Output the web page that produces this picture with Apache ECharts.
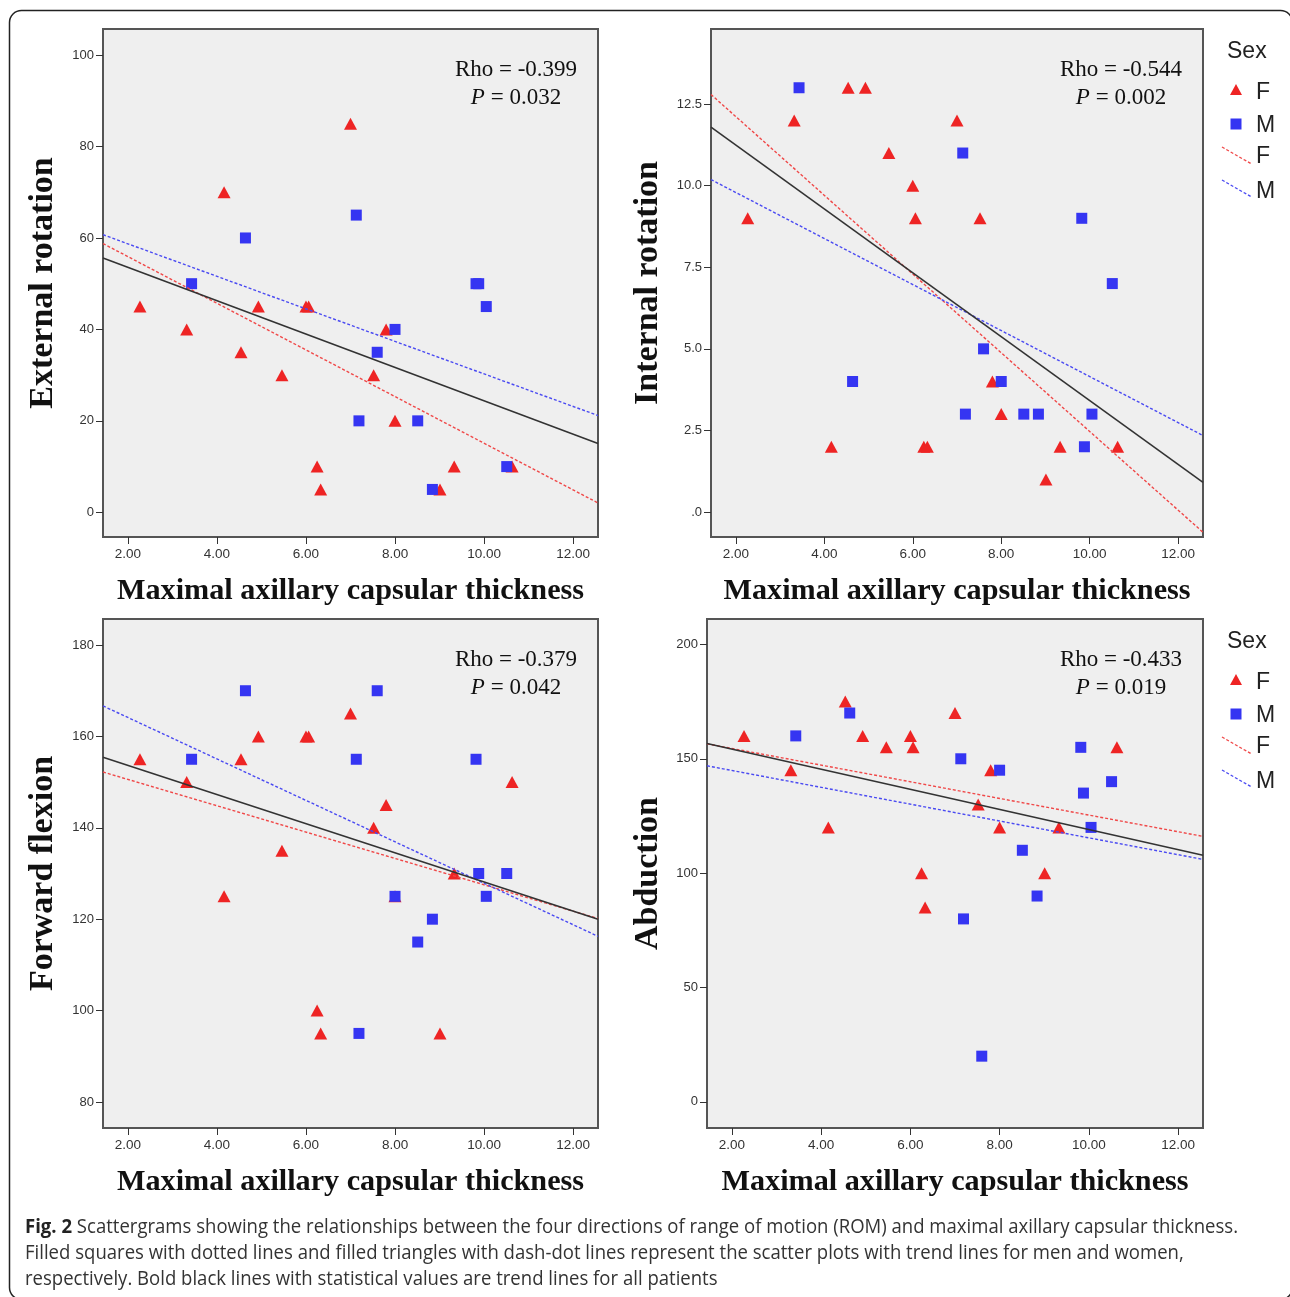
<!DOCTYPE html>
<html><head><meta charset="utf-8">
<script src="https://cdn.jsdelivr.net/npm/echarts@6/dist/echarts.min.js"></script>
<style>html,body{margin:0;padding:0;background:#fff}#c{width:1290px;height:1297px}</style>
</head><body><div id="c"></div>
<script>
// ---- data ----
const thicknessF = [2.27, 3.32, 4.16, 4.54, 4.93, 5.46, 6.00, 6.06, 6.25, 6.33, 7.00, 7.52, 7.80, 8.00, 9.01, 9.33, 10.63];
const thicknessM = [3.43, 4.64, 7.13, 7.19, 7.60, 8.00, 8.51, 8.84, 9.82, 9.88, 10.05, 10.51];
const externalF = [45, 40, 70, 35, 45, 30, 45, 45, 10, 5, 85, 30, 40, 20, 5, 10, 10];
const externalM = [50, 60, 65, 20, 35, 40, 20, 5, 50, 50, 45, 10];
const internalF = [9, 12, 2, 13, 13, 11, 10, 9, 2, 2, 12, 9, 4, 3, 1, 2, 2];
const internalM = [13, 4, 11, 3, 5, 4, 3, 3, 9, 2, 3, 7];
const flexionF = [155, 150, 125, 155, 160, 135, 160, 160, 100, 95, 165, 140, 145, 125, 95, 130, 150];
const flexionM = [155, 170, 155, 95, 170, 125, 115, 120, 155, 130, 125, 130];
const abductionF = [160, 145, 120, 175, 160, 155, 160, 155, 100, 85, 170, 130, 145, 120, 100, 120, 155];
const abductionM = [160, 170, 150, 80, 20, 145, 110, 90, 155, 135, 120, 140];
const yTitles = ['External rotation', 'Internal rotation', 'Forward flexion', 'Abduction'];
const rhoLabels = ['-0.399', '-0.544', '-0.379', '-0.433'];
const pLabels = ['0.032', '0.002', '0.042', '0.019'];
const xTicks = [2, 4, 6, 8, 10, 12];
const yTicksER = [0, 20, 40, 60, 80, 100];
const yTicksIR = [0, 2.5, 5, 7.5, 10, 12.5];
const yTicksFF = [80, 100, 120, 140, 160, 180];
const yTicksAB = [0, 50, 100, 150, 200];
const xTitle = 'Maximal axillary capsular thickness';
const legendTitle = 'Sex';
const sexLabels = ['F', 'M'];
const captionLines = [
  ['Fig. 2', ' Scattergrams showing the relationships between the four directions of range of motion (ROM) and maximal axillary capsular thickness.'],
  ['', 'Filled squares with dotted lines and filled triangles with dash-dot lines represent the scatter plots with trend lines for men and women,'],
  ['', 'respectively. Bold black lines with statistical values are trend lines for all patients']
];

// ---- layout ----
const X_MIN = 1.44, X_MAX = 12.56;
const RED = '#ee2424', BLUE = '#3535f2';
const grids = [
  {left: 103, top: 29, width: 495, height: 508},
  {left: 711, top: 29, width: 492, height: 508},
  {left: 103, top: 619, width: 495, height: 509},
  {left: 707, top: 619, width: 496, height: 509}
];
const yRanges = [[-5.4, 105.7], [-0.765, 14.8], [74.3, 185.7], [-11.4, 211.1]];
const yTickSets = [yTicksER, yTicksIR, yTicksFF, yTicksAB];
const panelF = [externalF, internalF, flexionF, abductionF];
const panelM = [externalM, internalM, flexionM, abductionM];

function zip(xs, ys) { return xs.map((x, i) => [x, ys[i]]); }
function fit(xs, ys) {
  const n = xs.length;
  const mx = xs.reduce((a, b) => a + b, 0) / n, my = ys.reduce((a, b) => a + b, 0) / n;
  let sxy = 0, sxx = 0;
  for (let i = 0; i < n; i++) { sxy += (xs[i] - mx) * (ys[i] - my); sxx += (xs[i] - mx) ** 2; }
  const b = sxy / sxx, a = my - b * mx;
  return [[X_MIN, a + b * X_MIN], [X_MAX, a + b * X_MAX]];
}

const sans = 'Liberation Sans, Arial, sans-serif';
const serif = 'Liberation Serif, Times New Roman, serif';
const xAxis = [], yAxis = [], series = [], graphic = [];

grids.forEach((g, i) => {
  xAxis.push({
    type: 'value', gridIndex: i, min: X_MIN, max: X_MAX, position: 'bottom',
    axisLine: {show: false, onZero: false}, splitLine: {show: false},
    axisTick: {show: true, customValues: xTicks, length: 7, lineStyle: {color: '#333', width: 1}},
    axisLabel: {customValues: xTicks, formatter: v => v.toFixed(2), fontSize: 13.5, color: '#333', fontFamily: sans, margin: 10}
  });
  const yt = yTickSets[i];
  yAxis.push({
    type: 'value', gridIndex: i, min: yRanges[i][0], max: yRanges[i][1], position: 'left',
    axisLine: {show: false, onZero: false}, splitLine: {show: false},
    axisTick: {show: true, customValues: yt, length: 7, lineStyle: {color: '#333', width: 1}},
    axisLabel: {customValues: yt, formatter: v => (i === 1 ? (v === 0 ? '.0' : v.toFixed(1)) : String(v)), fontSize: 13, color: '#333', fontFamily: sans, margin: 9}
  });
  const F = panelF[i], M = panelM[i];
  series.push({type: 'scatter', xAxisIndex: i, yAxisIndex: i, data: zip(thicknessF, F), symbol: 'triangle', symbolSize: [13, 12], itemStyle: {color: RED, opacity: 1}, z: 2, silent: true});
  series.push({type: 'scatter', xAxisIndex: i, yAxisIndex: i, data: zip(thicknessM, M), symbol: 'rect', symbolSize: 11, itemStyle: {color: BLUE, opacity: 1}, z: 2, silent: true});
  series.push({type: 'line', xAxisIndex: i, yAxisIndex: i, data: fit(thicknessF, F), showSymbol: false, clip: true, lineStyle: {color: '#f04848', width: 1.4, type: [3, 2]}, z: 3, silent: true});
  series.push({type: 'line', xAxisIndex: i, yAxisIndex: i, data: fit(thicknessM, M), showSymbol: false, clip: true, lineStyle: {color: '#4a4af2', width: 1.4, type: [3, 2]}, z: 3, silent: true});
  series.push({type: 'line', xAxisIndex: i, yAxisIndex: i, data: fit(thicknessF.concat(thicknessM), F.concat(M)), showSymbol: false, clip: true, lineStyle: {color: '#333', width: 1.6}, z: 4, silent: true});

  const right = g.left + g.width, cx = g.left + g.width / 2, cy = g.top + g.height / 2;
  // stat text
  graphic.push({type: 'text', x: right - 82, y: g.top + 40.5, style: {text: 'Rho = ' + rhoLabels[i], font: '23px ' + serif, fill: '#111', align: 'center', verticalAlign: 'middle'}});
  graphic.push({type: 'text', x: right - 82, y: g.top + 68.5, style: {text: '{i|P} = ' + pLabels[i], font: '23px ' + serif, fill: '#111', align: 'center', verticalAlign: 'middle', rich: {i: {fontStyle: 'italic', fontSize: 23, fontFamily: serif}}}});
  // axis titles
  const ytx = (i % 2 === 0) ? 43 : 648;
  graphic.push({type: 'text', x: ytx, y: cy, rotation: Math.PI / 2, style: {text: yTitles[i], font: 'bold 34px ' + serif, fill: '#111', align: 'center', verticalAlign: 'middle'}});
  graphic.push({type: 'text', x: cx, y: g.top + g.height + 54, style: {text: xTitle, font: 'bold 30.2px ' + serif, fill: '#111', align: 'center', verticalAlign: 'middle'}});
  // legend for right panels
  if (i % 2 === 1) {
    const T = g.top;
    const lf = '23px ' + sans;
    graphic.push({type: 'text', x: 1227, y: T + 23, style: {text: legendTitle, font: lf, fill: '#222', verticalAlign: 'middle'}});
    graphic.push({type: 'polygon', shape: {points: [[1230, T + 66], [1242, T + 66], [1236, T + 55]]}, style: {fill: RED}});
    graphic.push({type: 'text', x: 1256, y: T + 64, style: {text: sexLabels[0], font: lf, fill: '#222', verticalAlign: 'middle'}});
    graphic.push({type: 'rect', shape: {x: 1230.5, y: T + 89.5, width: 11, height: 11}, style: {fill: BLUE}});
    graphic.push({type: 'text', x: 1256, y: T + 97, style: {text: sexLabels[1], font: lf, fill: '#222', verticalAlign: 'middle'}});
    graphic.push({type: 'line', shape: {x1: 1222, y1: T + 118, x2: 1251.5, y2: T + 135}, style: {stroke: '#f04848', lineWidth: 1.4, lineDash: [3, 2]}});
    graphic.push({type: 'text', x: 1256, y: T + 128, style: {text: sexLabels[0], font: lf, fill: '#222', verticalAlign: 'middle'}});
    graphic.push({type: 'line', shape: {x1: 1222, y1: T + 151, x2: 1251.5, y2: T + 168}, style: {stroke: '#4a4af2', lineWidth: 1.4, lineDash: [3, 2]}});
    graphic.push({type: 'text', x: 1256, y: T + 162.5, style: {text: sexLabels[1], font: lf, fill: '#222', verticalAlign: 'middle'}});
  }
});

// outer rounded frame
graphic.push({type: 'rect', shape: {x: 9.5, y: 10.5, width: 1283, height: 1289, r: 12}, style: {fill: null, stroke: '#222', lineWidth: 1.5}, z: -1});

// caption (condensed via horizontal scale)
const capSize = 20;
const capFont = '"Open Sans", Noto Sans, sans-serif';
const cv = document.createElement('canvas').getContext('2d');
cv.font = 'bold ' + capSize + 'px ' + capFont;
const wb = cv.measureText(captionLines[0][0]).width;
cv.font = capSize + 'px ' + capFont;
const wr = cv.measureText(captionLines[0][1]).width;
const capScale = 1213 / (wb + wr);
const capY = [1227, 1253, 1279];
captionLines.forEach((ln, k) => {
  graphic.push({type: 'text', x: 25, y: capY[k], scaleX: capScale, style: {
    text: (ln[0] ? '{b|' + ln[0] + '}' : '') + '{r|' + ln[1] + '}',
    verticalAlign: 'middle', fill: '#222', font: capSize + 'px ' + capFont,
    rich: {b: {fontWeight: 'bold', fontSize: capSize, fontFamily: capFont, fill: '#222'}, r: {fontSize: capSize, fontFamily: capFont, fill: '#333'}}
  }});
});

const chart = echarts.init(document.getElementById('c'), null, {renderer: 'canvas'});
chart.setOption({
  animation: false,
  backgroundColor: '#fff',
  grid: grids.map(g => Object.assign({show: true, backgroundColor: '#efefef', borderColor: '#555', borderWidth: 2, containLabel: false}, g)),
  xAxis, yAxis, series, graphic
});
</script></body></html>
